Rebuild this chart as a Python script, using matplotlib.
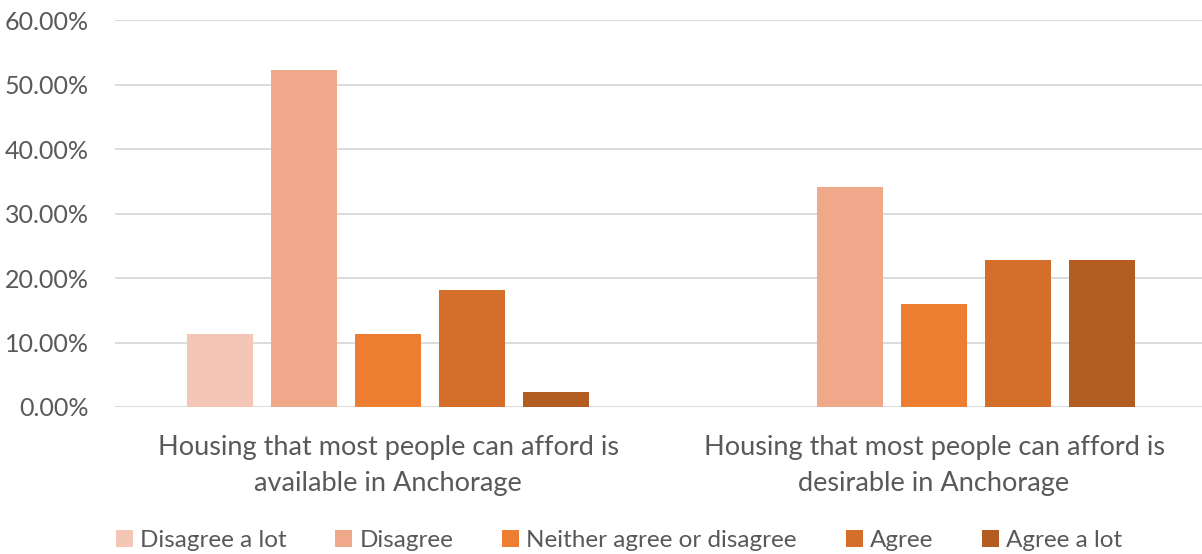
import matplotlib.pyplot as plt
import numpy as np
from matplotlib.ticker import FuncFormatter

plt.rcParams['font.family'] = ['Lato', 'DejaVu Sans']

categories = ['Housing that most people can afford is\navailable in Anchorage',
              'Housing that most people can afford is\ndesirable in Anchorage']
responses = ['Disagree a lot', 'Disagree', 'Neither agree or disagree', 'Agree', 'Agree a lot']
disagree_a_lot = [0.1136, 0.0]
disagree = [0.5227, 0.3409]
neither = [0.1136, 0.1591]
agree = [0.1818, 0.2273]
agree_a_lot = [0.0227, 0.2273]
colors = ['#F4C6B6', '#F0A88A', '#ED7D31', '#D36E2B', '#B45D22']

series = [disagree_a_lot, disagree, neither, agree, agree_a_lot]

fig = plt.figure(figsize=(12.02, 5.54), dpi=100)
ax = fig.add_axes([115 / 1202, 1 - 407 / 554, 1092 / 1202, 387 / 554])

x = np.arange(len(categories))
width = 66 / 546
step = 84 / 546
for i, (vals, col, name) in enumerate(zip(series, colors, responses)):
    ax.bar(x + (i - 2) * step, vals, width, color=col, label=name, zorder=3)

ax.set_xlim(-0.5, 1.5)
ax.set_ylim(0, 0.6)
ax.set_yticks(np.arange(0, 0.61, 0.1))
ax.yaxis.set_major_formatter(FuncFormatter(lambda v, p: '%.2f%%' % (v * 100)))
ax.grid(axis='y', color='#D9D9D9', linewidth=1.3, zorder=0)
ax.set_xticks(x)
ax.set_xticklabels(categories, linespacing=1.58, fontsize=19.5)
for s in ax.spines.values():
    s.set_visible(False)
ax.tick_params(axis='both', length=0, colors='#595959')
ax.tick_params(axis='y', labelsize=18, pad=19)
ax.tick_params(axis='x', pad=20)

fig.legend(loc='lower center', bbox_to_anchor=(0.515, -0.034), ncol=5, frameon=False,
           fontsize=17.5, labelcolor='#595959', handlelength=0.7, handleheight=0.7,
           handletextpad=0.3, columnspacing=2.0)

fig.savefig('out.png', dpi=100)
